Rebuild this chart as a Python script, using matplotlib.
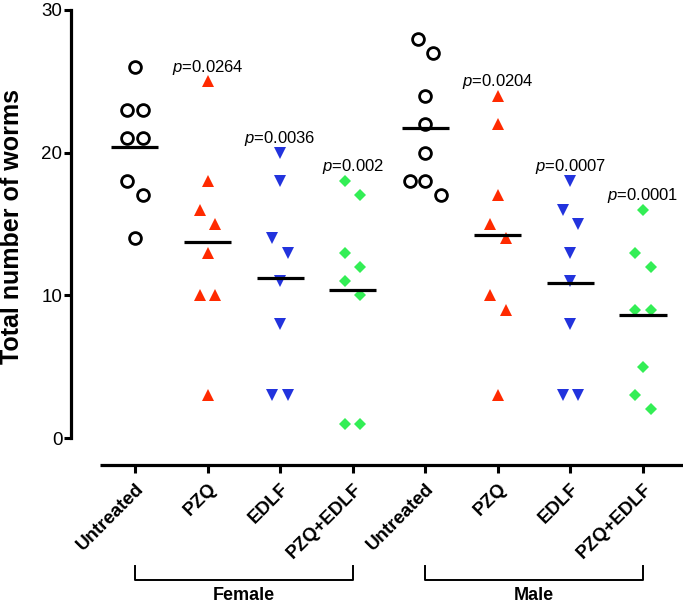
import matplotlib
matplotlib.use('Agg')
import matplotlib.pyplot as plt
import matplotlib.transforms as mtransforms

plt.rcParams['font.family'] = ['Liberation Sans', 'DejaVu Sans']
plt.rcParams['mathtext.fontset'] = 'custom'
plt.rcParams['mathtext.rm'] = 'Liberation Sans'
plt.rcParams['mathtext.it'] = 'Liberation Sans:italic'

# data (worm counts per mouse)
labels = ['Untreated', 'PZQ', 'EDLF', 'PZQ+EDLF', 'Untreated', 'PZQ', 'EDLF', 'PZQ+EDLF']
female_untreated = [26, 23, 23, 21, 21, 18, 17, 14]
female_pzq = [25, 18, 16, 15, 13, 10, 10, 3]
female_edlf = [20, 18, 14, 13, 11, 8, 3, 3]
female_pzq_edlf = [18, 17, 13, 12, 11, 10, 1, 1]
male_untreated = [28, 27, 24, 22, 20, 18, 18, 17]
male_pzq = [24, 22, 17, 15, 14, 10, 9, 3]
male_edlf = [18, 16, 15, 13, 11, 8, 3, 3]
male_pzq_edlf = [16, 13, 12, 9, 9, 5, 3, 2]
p_values = [None, '0.0264', '0.0036', '0.002', None, '0.0204', '0.0007', '0.0001']
sexes = ['Female', 'Male']

groups = [female_untreated, female_pzq, female_edlf, female_pzq_edlf,
          male_untreated, male_pzq, male_edlf, male_pzq_edlf]

red = '#ff2a00'
blue = '#2233dd'
green = '#33ee55'
styles = [dict(marker='o', mfc='white', mec='black', mew=2.0, ms=8.5),
          dict(marker='^', mfc=red, mec=red, mew=0, ms=8.5),
          dict(marker='v', mfc=blue, mec=blue, mew=0, ms=8.5),
          dict(marker='D', mfc=green, mec=green, mew=0, ms=6.2)]


def spread(vals, step=0.214):
    # scatter points that sit close together sideways, prism style
    v = sorted(vals, reverse=True)
    clusters = [[v[0]]]
    for a in v[1:]:
        if clusters[-1][-1] - a <= 1:
            clusters[-1].append(a)
        else:
            clusters.append([a])
    ys, dx = [], []
    for c in clusters:
        n = len(c)
        if n == 1:
            offs = [0]
        elif len(set(c)) == n:
            offs = [(-0.5 if i % 2 == 0 else 0.5) for i in range(n)]
        else:
            offs = [i - (n - 1) / 2 for i in range(n)]
        ys += c
        dx += [o * step for o in offs]
    return ys, dx


fig = plt.figure(figsize=(6.83, 6.05), dpi=100)
ax = fig.add_axes([100 / 683, 140 / 605, 583 / 683, 455 / 605])

for i, vals in enumerate(groups):
    ys, dx = spread(vals)
    ax.plot([i + d for d in dx], ys, linestyle='none', clip_on=False, zorder=3, **styles[i % 4])
    m = sum(vals) / len(vals)
    ax.plot([i - 0.324, i + 0.324], [m, m], color='black', lw=2.3, solid_capstyle='butt', zorder=4)
    if p_values[i]:
        ax.text(i, max(vals) + 1.0, r'$\mathit{p}$=' + p_values[i], ha='center', va='center', fontsize=12)

ax.set_xlim(-0.482, 7.551)
ax.set_ylim(-1.89, 30)
ax.set_yticks([0, 10, 20, 30])
ax.set_xticks(range(len(labels)))
ax.set_xticklabels(labels, rotation=45, ha='right', va='top', rotation_mode='anchor',
                   fontsize=13.5, fontweight='bold')
ax.tick_params(axis='y', length=5, width=2.2, labelsize=13.5, pad=1)
ax.tick_params(axis='x', length=6, width=2.2, pad=5)

for s in ['top', 'right']:
    ax.spines[s].set_visible(False)
ax.spines['left'].set_bounds(0, 30)
ax.spines['left'].set_position(('outward', 21))
ax.spines['left'].set_linewidth(2.3)
ax.spines['bottom'].set_linewidth(2.3)
ax.spines['bottom'].set_capstyle('butt')

fig.text(12 / 683, 1 - 227 / 605, 'Total number of worms', rotation=90, ha='center', va='center',
         fontsize=18, fontweight='bold')

# brackets for sex
trans = mtransforms.blended_transform_factory(ax.transData, fig.transFigure)
y_top = 1 - 566 / 605
y_bot = 1 - 580 / 605
for k, sex in enumerate(sexes):
    x0, x1 = 4 * k, 4 * k + 3
    ax.plot([x0, x0, x1, x1], [y_top, y_bot, y_bot, y_top], color='black', lw=1.4,
            transform=trans, clip_on=False)
    ax.text((x0 + x1) / 2, 1 - 595 / 605, sex, transform=trans, ha='center', va='center',
            fontsize=13, fontweight='bold')

fig.savefig('out.png', dpi=100)
